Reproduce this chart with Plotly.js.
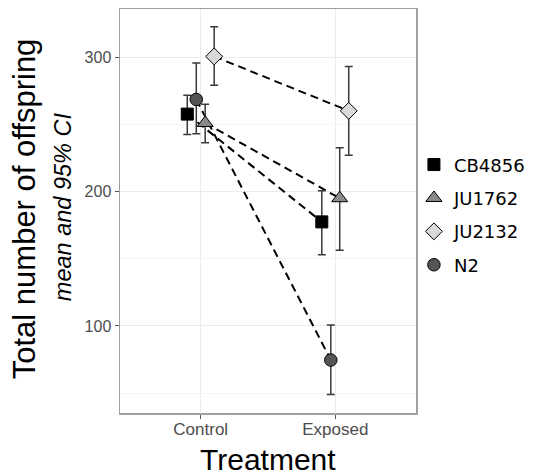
<!DOCTYPE html>
<html>
<head>
<meta charset="utf-8">
<script src="https://cdn.plot.ly/plotly-3.0.1.min.js"></script>
<style>html,body{margin:0;padding:0;background:#fff;}#chart{width:535px;height:475px;}</style>
</head>
<body>
<div id="chart"></div>
<script>
// ---- data ----
var treatments = ["Control", "Exposed"];
var strains = ["CB4856", "JU1762", "JU2132", "N2"];
var meanCB4856 = [257.6, 177.4];
var lowCB4856  = [242.5, 153.0];
var highCB4856 = [271.6, 200.5];
var meanJU1762 = [251.0, 195.0];
var lowJU1762  = [236.3, 156.3];
var highJU1762 = [265.0, 232.6];
var meanJU2132 = [300.5, 260.0];
var lowJU2132  = [279.0, 227.0];
var highJU2132 = [322.5, 293.0];
var meanN2 = [268.5, 74.6];
var lowN2  = [243.0, 48.9];
var highN2 = [295.6, 100.7];

var means = [meanCB4856, meanJU1762, meanJU2132, meanN2];
var lows  = [lowCB4856, lowJU1762, lowJU2132, lowN2];
var highs = [highCB4856, highJU1762, highJU2132, highN2];

// ---- styles ----
var dodge = {CB4856: -0.1, N2: -0.033, JU1762: 0.033, JU2132: 0.1};
var symbols = {CB4856: "square", JU1762: "triangle-up", JU2132: "diamond", N2: "circle"};
var fills = {CB4856: "#000000", JU1762: "#8a8a8a", JU2132: "#d9d9d9", N2: "#555555"};
var sizes = {CB4856: 12, JU1762: 14, JU2132: 13, N2: 12.5};

var font = "Liberation Sans, Arial, sans-serif";
var traces = [];
strains.forEach(function (s, i) {
  var xs = treatments.map(function (t, j) { return j + 1 + dodge[s]; });
  traces.push({
    type: "scatter", mode: "lines", x: xs, y: means[i],
    line: {color: "#000", width: 2, dash: "8px,5px"},
    showlegend: false, hoverinfo: "skip"
  });
});
strains.forEach(function (s, i) {
  var xs = treatments.map(function (t, j) { return j + 1 + dodge[s]; });
  traces.push({
    type: "scatter", mode: "markers", name: s, legendgroup: s,
    x: xs, y: means[i],
    marker: {symbol: symbols[s], size: sizes[s], color: fills[s], line: {color: "#000", width: 1}},
    error_y: {
      type: "data", symmetric: false,
      array: means[i].map(function (m, j) { return highs[i][j] - m; }),
      arrayminus: means[i].map(function (m, j) { return m - lows[i][j]; }),
      color: "#3a3a3a", thickness: 1.5, width: 4
    }
  });
});

var layout = {
  width: 535, height: 475,
  margin: {l: 120, r: 119, t: 9, b: 62, autoexpand: false},
  paper_bgcolor: "#fff", plot_bgcolor: "#fff",
  showlegend: true,
  legend: {
    x: 0.993, xanchor: "left", y: 0.66, yanchor: "top",
    font: {family: "DejaVu Sans", size: 18, color: "#000"},
    tracegroupgap: 7, itemwidth: 30, bgcolor: "rgba(0,0,0,0)"
  },
  xaxis: {
    range: [0.4, 2.6], tickvals: [1, 2], ticktext: treatments,
    showgrid: true, gridcolor: "#ebebeb", gridwidth: 1,
    zeroline: false, showline: true, mirror: true, linecolor: "#a0a0a0", linewidth: 1.5,
    ticks: "outside", ticklen: 4, tickcolor: "#555", tickwidth: 1, ticklabelstandoff: -4,
    tickfont: {family: font, size: 17, color: "#4d4d4d"}
  },
  yaxis: {
    range: [35.2, 335.8], tickvals: [100, 200, 300],
    showgrid: true, gridcolor: "#ebebeb", gridwidth: 1,
    minor: {tickvals: [50, 150, 250], showgrid: true, gridcolor: "#f5f5f5", gridwidth: 1, ticks: ""},
    zeroline: false, showline: true, mirror: true, linecolor: "#a0a0a0", linewidth: 1.5,
    ticks: "outside", ticklen: 4, tickcolor: "#555", tickwidth: 1,
    tickfont: {family: font, size: 16, color: "#4d4d4d"}
  },
  annotations: [
    {text: "Total number of offspring", xref: "paper", yref: "paper", x: -0.32, y: 0.505,
     xanchor: "center", yanchor: "middle", textangle: -90, showarrow: false,
     font: {family: font, size: 31, color: "#000"}},
    {text: "<i>mean and 95% CI</i>", xref: "paper", yref: "paper", x: -0.192, y: 0.51,
     xanchor: "center", yanchor: "middle", textangle: -90, showarrow: false,
     font: {family: font, size: 23.5, color: "#000"}},
    {text: "Treatment", xref: "paper", yref: "paper", x: 0.5, y: -0.115,
     xanchor: "center", yanchor: "middle", showarrow: false,
     font: {family: font, size: 30, color: "#000"}}
  ]
};

Plotly.newPlot("chart", traces, layout, {displayModeBar: false, staticPlot: true});
</script>
</body>
</html>
